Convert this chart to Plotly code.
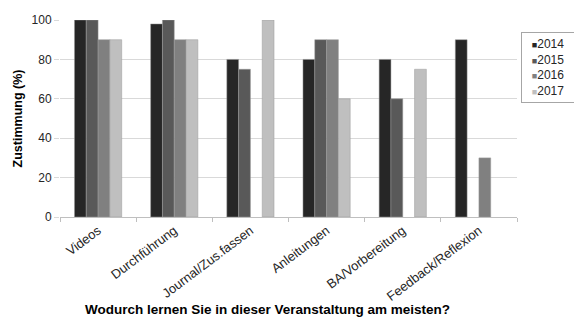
import plotly.graph_objects as go

categories = ["Videos", "Durchführung", "Journal/Zus.fassen", "Anleitungen", "BA/Vorbereitung", "Feedback/Reflexion"]
years = ["2014", "2015", "2016", "2017"]
v2014 = [100, 98, 80, 80, 80, 90]
v2015 = [100, 100, 75, 90, 60, None]
v2016 = [90, 90, None, 90, None, 30]
v2017 = [90, 90, 100, 60, 75, None]
colors = ["#262626", "#595959", "#808080", "#bfbfbf"]
series = [v2014, v2015, v2016, v2017]
x_title = "Wodurch lernen Sie in dieser Veranstaltung am meisten?"
y_title = "Zustimmung (%)"

fig = go.Figure()
for name, vals, c in zip(years, series, colors):
    fig.add_trace(go.Bar(x=categories, y=vals, name=name, showlegend=False,
                         marker=dict(color=c, line=dict(color="#9a9a9a", width=0.5))))

font = "Liberation Sans, Arial, sans-serif"
legend_text = "<br>".join(
    f"<span style='font-size:9px;color:{c}'>■</span>{y}" for y, c in zip(years, colors)
)

fig.update_layout(
    width=574, height=320,
    margin=dict(l=60, r=57, t=20, b=103, autoexpand=False),
    paper_bgcolor="white", plot_bgcolor="white",
    barmode="group", bargap=0.38, bargroupgap=0,
    font=dict(family=font, size=12, color="#262626"),
    showlegend=False,
    xaxis=dict(
        tickangle=-37, tickson="boundaries", ticks="outside", ticklen=4,
        tickcolor="#bfbfbf", showline=True, linecolor="#bfbfbf", linewidth=1,
        tickfont=dict(size=13),
    ),
    yaxis=dict(
        range=[0, 100], dtick=20, showgrid=True, gridcolor="#d9d9d9",
        zeroline=False, showline=False, ticks="outside", ticklen=5,
        tickcolor="#d9d9d9", tickfont=dict(size=12),
    ),
    annotations=[
        dict(text=f"<b>{x_title}</b>", xref="paper", yref="paper",
             x=0.455, y=-0.472, xanchor="center", yanchor="middle",
             showarrow=False, font=dict(size=13.5, color="#000000")),
        dict(text=f"<b>{y_title}</b>", xref="paper", yref="paper",
             x=-0.092, y=0.5, xanchor="center", yanchor="middle", textangle=-90,
             showarrow=False, font=dict(size=12.5, color="#000000")),
        dict(text=legend_text, xref="paper", yref="paper",
             x=1.0088, y=0.939, xanchor="left", yanchor="top",
             showarrow=False, align="center", width=44, borderpad=4,
             bordercolor="#a6a6a6", borderwidth=1, bgcolor="white",
             font=dict(size=12, color="#262626")),
    ],
)
fig.write_html("out.html")
